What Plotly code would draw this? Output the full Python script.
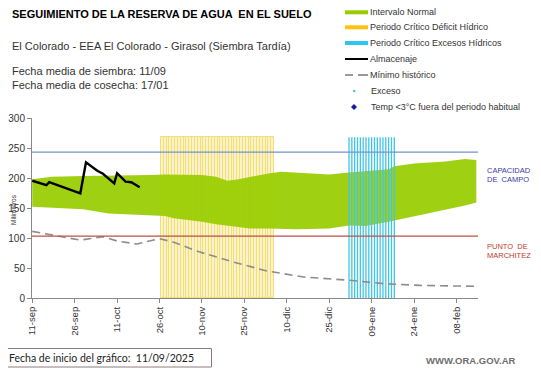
import plotly.graph_objects as go
import pandas as pd

# ---------------- data ----------------
start_date = "2025-09-11"

# Intervalo normal (green band): day offset from start, upper and lower limits (mm)
band_days  = [0, 7, 18, 27, 36, 42, 47, 50, 56, 60, 65, 69, 73, 77, 84, 88, 93, 98, 105, 112, 118, 126, 128, 135, 146, 153, 157]
band_upper = [198, 202, 203.5, 204, 204, 205, 206, 206, 206, 205, 202, 195.5, 198, 202, 208, 210.5, 209, 208, 206, 209, 211, 214.5, 219.5, 224, 227.5, 231.5, 230]
band_lower = [152, 150, 148, 141, 139.5, 138, 136.5, 133, 130, 127, 123, 121, 118, 116, 116, 115, 114.5, 115, 116, 121, 120, 127, 129, 135.5, 146.5, 154, 159]

# Almacenaje (black line)
alm_dates  = ["2025-09-11", "2025-09-16", "2025-09-17", "2025-09-28", "2025-09-30", "2025-10-04",
              "2025-10-06", "2025-10-10", "2025-10-11", "2025-10-14", "2025-10-16", "2025-10-19"]
alm_values = [195.5, 188, 193, 174.5, 226, 212, 207, 191, 208, 194, 193, 184.5]

# Minimo historico (dashed grey line)
min_days   = [0, 7, 17, 25, 30, 37, 45, 50, 59, 71, 83, 96, 112, 124, 137, 157]
min_values = [111, 105, 96.5, 102, 95, 90, 99, 93, 77, 60, 45, 35, 29.6, 24, 21, 19.5]

# Periodos criticos
deficit_start, deficit_end = "2025-10-27", "2025-12-05"
exceso_start, exceso_end = "2026-01-01", "2026-01-17"
periodo_top = 268

capacidad_campo = 243
punto_marchitez = 103

tick_dates  = ["2025-09-11", "2025-09-26", "2025-10-11", "2025-10-26", "2025-11-10", "2025-11-25",
               "2025-12-10", "2025-12-25", "2026-01-09", "2026-01-24", "2026-02-08"]
tick_labels = ["11-sep", "26-sep", "11-oct", "26-oct", "10-nov", "25-nov",
               "10-dic", "25-dic", "09-ene", "24-ene", "08-feb"]
y_ticks = [0, 50, 100, 150, 200, 250, 300]

# ---------------- derived ----------------
t0 = pd.Timestamp(start_date)
band_x = [t0 + pd.Timedelta(days=d) for d in band_days]
min_x = [t0 + pd.Timedelta(days=d) for d in min_days]
deficit_days = pd.date_range(deficit_start, deficit_end, freq="D")
exceso_days = pd.date_range(exceso_start, exceso_end, freq="D")

ex_x, ex_y = [], []
for d in exceso_days:
    ex_x += [d, d, None]
    ex_y += [0, periodo_top, None]

# page has an 8px body margin: figure origin sits at page (8, 8)
OFF = 8
W, H = 541 - OFF, 368 - OFF
# plot area in page pixels: x 32..478, y 118..297.7
L, R, T, B = 32 - OFF, 541 - 478, 118 - OFF, 368 - 298
def px(x):  # page x -> paper
    return (x - OFF - L) / (W - L - R)
def py(y):  # page y -> paper
    return (H - B - (y - OFF)) / (H - T - B)

FONT = "Liberation Sans, Arial, sans-serif"

fig = go.Figure()

# Deficit period (yellow stripes)
fig.add_trace(go.Bar(
    x=deficit_days, y=[periodo_top] * len(deficit_days), width=86400000,
    marker=dict(color="#FBF3C8", line=dict(color="#F3DD78", width=1)),
    showlegend=False, hoverinfo="skip"))

# Green band
fig.add_trace(go.Scatter(x=band_x, y=band_lower, mode="lines", line=dict(width=0),
                         showlegend=False, hoverinfo="skip"))
fig.add_trace(go.Scatter(x=band_x, y=band_upper, mode="lines", line=dict(width=0),
                         fill="tonexty", fillcolor="rgba(153,204,0,0.93)",
                         showlegend=False, name="Intervalo Normal"))

# Excess period (cyan lines)
fig.add_trace(go.Scatter(x=ex_x, y=ex_y, mode="lines", line=dict(color="#3EC6E6", width=1.3),
                         showlegend=False, hoverinfo="skip"))

# Minimo historico
fig.add_trace(go.Scatter(x=min_x, y=min_values, mode="lines",
                         line=dict(color="#8C8C8C", width=1.6, dash="8px,5px"),
                         showlegend=False, name="Mínimo histórico"))

# Almacenaje
fig.add_trace(go.Scatter(x=pd.to_datetime(alm_dates), y=alm_values, mode="lines",
                         line=dict(color="black", width=2.4), showlegend=False, name="Almacenaje"))

shapes = [
    dict(type="line", xref="paper", yref="y", x0=0, x1=1, y0=capacidad_campo, y1=capacidad_campo,
         line=dict(color="#7393CB", width=1.2), layer="above"),
    dict(type="line", xref="paper", yref="y", x0=0, x1=1, y0=punto_marchitez, y1=punto_marchitez,
         line=dict(color="#B9514C", width=1.2), layer="above"),
]

# manual legend
leg_x0, leg_x1 = 345, 368
rows = [12.3, 27.3, 43, 59, 75, 91, 107]
shapes += [
    dict(type="rect", xref="paper", yref="paper", x0=px(leg_x0), x1=px(leg_x1),
         y0=py(rows[0] + 2), y1=py(rows[0] - 2), fillcolor="#99CC00", line=dict(width=0)),
    dict(type="rect", xref="paper", yref="paper", x0=px(leg_x0), x1=px(leg_x1),
         y0=py(rows[1] + 2), y1=py(rows[1] - 2), fillcolor="#FFC20E", line=dict(width=0)),
    dict(type="rect", xref="paper", yref="paper", x0=px(leg_x0), x1=px(leg_x1),
         y0=py(rows[2] + 2), y1=py(rows[2] - 2), fillcolor="#2CC6F0", line=dict(width=0)),
    dict(type="line", xref="paper", yref="paper", x0=px(leg_x0), x1=px(leg_x1),
         y0=py(rows[3]), y1=py(rows[3]), line=dict(color="black", width=2)),
    dict(type="line", xref="paper", yref="paper", x0=px(leg_x0), x1=px(353),
         y0=py(rows[4]), y1=py(rows[4]), line=dict(color="#999999", width=2)),
    dict(type="line", xref="paper", yref="paper", x0=px(358), x1=px(leg_x1),
         y0=py(rows[4]), y1=py(rows[4]), line=dict(color="#999999", width=2)),
    dict(type="circle", xref="paper", yref="paper", x0=px(353), x1=px(355.5),
         y0=py(rows[5] + 1.3), y1=py(rows[5] - 1.3), fillcolor="#3EC6E6", line=dict(width=0)),
    dict(type="path", xref="paper", yref="paper",
         path=f"M {px(354)} {py(rows[6]-3)} L {px(357)} {py(rows[6])} L {px(354)} {py(rows[6]+3)} L {px(351)} {py(rows[6])} Z",
         fillcolor="#1A1AA0", line=dict(width=0)),
]
leg_texts = ["Intervalo Normal", "Periodo Crítico Déficit Hídrico", "Periodo Crítico Excesos Hídricos",
             "Almacenaje", "Mínimo histórico", "Exceso", "Temp <3°C fuera del periodo habitual"]
leg_text_x = [367.5, 367.5, 367.5, 367.5, 367.5, 368.5, 368.5]

annotations = []
for t, y, xx in zip(leg_texts, rows, leg_text_x):
    annotations.append(dict(text=t, xref="paper", yref="paper", x=px(xx), y=py(y),
                            xanchor="left", yanchor="middle", showarrow=False,
                            font=dict(family=FONT, size=9, color="#333333")))

def txt(t, x, y, size, color="#222222", bold=False, family=FONT, xanchor="left"):
    annotations.append(dict(text=f"<b>{t}</b>" if bold else t, xref="paper", yref="paper",
                            x=px(x), y=py(y), xanchor=xanchor, yanchor="middle",
                            showarrow=False, font=dict(family=family, size=size, color=color)))

txt("SEGUIMIENTO DE LA RESERVA DE AGUA  EN EL SUELO", 9.5, 14, 11, "black", bold=True)
txt("El Colorado - EEA El Colorado - Girasol (Siembra Tardía)", 9.5, 45.5, 11, "#333333")
txt("Fecha media de siembra: 11/09", 9.5, 70.5, 11, "#333333")
txt("Fecha media de cosecha: 17/01", 9.5, 84.5, 11, "#333333")
txt("CAPACIDAD", 484.5, 170, 7.5, "#3A3AA8")
txt("DE  CAMPO", 484.5, 179.5, 7.5, "#3A3AA8")
txt("PUNTO  DE", 484.5, 246.5, 7.5, "#C0392B")
txt("MARCHITEZ", 484.5, 255.5, 7.5, "#C0392B")
txt("WWW.ORA.GOV.AR", 424, 360, 9.5, "#6E6E6E", bold=True)
txt("Fecha de inicio del gráfico:  11/09/2025", 7, 357.5, 10.5, "#222222", family="Lato, sans-serif")
annotations.append(dict(text="Milímetros", xref="paper", yref="paper", x=px(13), y=py(210),
                        xanchor="center", yanchor="middle", textangle=-90, showarrow=False,
                        font=dict(family=FONT, size=6.5, color="#333333")))

shapes.append(dict(type="rect", xref="paper", yref="paper", x0=px(3.5), x1=px(211.5),
                   y0=py(367), y1=py(348.5), line=dict(color="#8E7C7C", width=1), fillcolor="rgba(0,0,0,0)"))

fig.update_layout(
    width=W, height=H, margin=dict(l=L, r=R, t=T, b=B, autoexpand=False),
    paper_bgcolor="white", plot_bgcolor="white",
    barmode="overlay", bargap=0,
    showlegend=False,
    shapes=shapes, annotations=annotations,
    font=dict(family=FONT, color="#333333"),
)
fig.update_xaxes(
    type="date", range=[t0 - pd.Timedelta(hours=2), t0 + pd.Timedelta(days=157.6)],
    tickmode="array", tickvals=pd.to_datetime(tick_dates), ticktext=tick_labels,
    tickangle=-90, ticks="outside", ticklen=4, tickcolor="#888888",
    showline=True, linecolor="#888888", linewidth=1, showgrid=False, zeroline=False,
    tickfont=dict(family=FONT, size=9.5, color="#333333"), automargin=False,
)
fig.update_yaxes(
    range=[0, 300], tickmode="array", tickvals=y_ticks,
    ticks="outside", ticklen=4, tickcolor="#888888",
    showline=True, linecolor="#888888", linewidth=1, showgrid=False, zeroline=False,
    tickfont=dict(family=FONT, size=10, color="#333333"), automargin=False,
)

fig.write_html("out.html")
